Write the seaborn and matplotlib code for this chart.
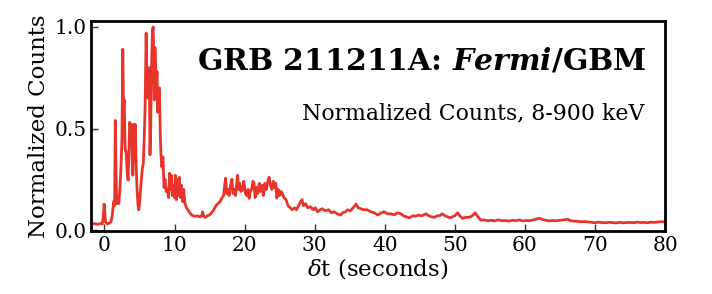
import numpy as np
import pandas as pd
import seaborn as sns
import matplotlib
matplotlib.use("Agg")
import matplotlib.pyplot as plt

# time since trigger (s)
t = [-2.0, -1.5, -1.0, -0.5, -0.3, -0.15, -0.05, 0.05, 0.15, 0.4, 0.7, 0.9, 1.05, 1.2, 1.3, 1.45,
     1.55, 1.65, 1.75, 1.9, 2.05, 2.2, 2.35, 2.5, 2.62, 2.72, 2.82, 2.95, 3.1, 3.25, 3.38, 3.5,
     3.6, 3.75, 3.85, 3.95, 4.05, 4.15, 4.2, 4.3, 4.4, 4.5, 4.65, 4.8, 4.9, 5.0, 5.2, 5.4,
     5.55, 5.7, 5.8, 5.95, 6.05, 6.15, 6.3, 6.4, 6.5, 6.6, 6.75, 6.85, 6.95, 7.05, 7.12, 7.2,
     7.3, 7.4, 7.5, 7.6, 7.7, 7.85, 7.95, 8.05, 8.2, 8.35, 8.5, 8.65, 8.8, 9.0, 9.15, 9.3,
     9.4, 9.55, 9.7, 9.85, 10.0, 10.1, 10.25, 10.4, 10.55, 10.7, 10.85, 11.0, 11.15, 11.3, 11.5, 11.7,
     11.9, 12.1, 12.4, 12.7, 13.0, 13.3, 13.6, 13.9, 14.0, 14.15, 14.4, 14.7, 15.0, 15.3, 15.6, 15.9,
     16.2, 16.5, 16.8, 17.0, 17.15, 17.3, 17.45, 17.6, 17.8, 18.0, 18.2, 18.35, 18.5, 18.7, 18.85, 19.0,
     19.15, 19.3, 19.5, 19.7, 19.9, 20.1, 20.3, 20.5, 20.65, 20.8, 21.0, 21.2, 21.35, 21.5, 21.7, 21.9,
     22.1, 22.3, 22.5, 22.7, 22.9, 23.1, 23.3, 23.5, 23.7, 23.9, 24.1, 24.3, 24.45, 24.6, 24.8, 25.0,
     25.2, 25.4, 25.6, 25.9, 26.2, 26.5, 26.8, 27.1, 27.4, 27.7, 28.0, 28.2, 28.4, 28.7, 29.0, 29.4,
     29.8, 30.1, 30.4, 30.8, 31.1, 31.5, 32.0, 32.4, 32.8, 33.2, 33.7, 34.0, 34.4, 34.7, 35.1, 35.5,
     35.9, 36.2, 36.6, 37.0, 37.5, 38.0, 38.5, 39.0, 39.5, 39.9, 40.4, 40.9, 41.4, 41.8, 42.3, 42.7,
     43.0, 43.5, 44.0, 44.4, 44.8, 45.2, 45.6, 45.9, 46.3, 46.7, 47.1, 47.5, 47.9, 48.2, 48.6, 49.0,
     49.3, 49.7, 50.0, 50.4, 50.7, 51.1, 51.5, 52.0, 52.5, 52.9, 53.2, 53.7, 54.2, 54.7, 55.2, 55.7,
     56.2, 56.7, 57.2, 57.7, 58.2, 58.7, 59.2, 59.7, 60.2, 60.7, 61.2, 61.7, 62.1, 62.5, 63.0, 63.5,
     64.0, 64.5, 65.0, 65.5, 66.1, 66.5, 67.0, 67.5, 68.0, 68.5, 69.0, 69.5, 70.0, 70.5, 71.0, 71.5,
     72.0, 72.5, 73.0, 73.5, 74.0, 74.5, 75.0, 75.5, 76.0, 76.5, 77.0, 77.5, 78.0, 78.5, 79.0, 79.5,
     80.0]

# normalized counts, 8-900 keV
counts = [0.030, 0.032, 0.028, 0.033, 0.030, 0.070, 0.128, 0.090, 0.040, 0.030, 0.035, 0.040, 0.060, 0.100, 0.140, 0.120,
          0.540, 0.300, 0.130, 0.150, 0.130, 0.200, 0.300, 0.450, 0.890, 0.600, 0.640, 0.400, 0.380, 0.280, 0.246, 0.400,
          0.530, 0.500, 0.520, 0.350, 0.270, 0.380, 0.520, 0.450, 0.520, 0.350, 0.200, 0.120, 0.100, 0.130, 0.220, 0.300,
          0.330, 0.480, 0.600, 0.970, 0.750, 0.650, 0.660, 0.800, 0.370, 0.500, 0.850, 0.980, 1.000, 0.850, 0.640, 0.900,
          0.800, 0.700, 0.780, 0.580, 0.670, 0.700, 0.500, 0.380, 0.310, 0.360, 0.210, 0.250, 0.190, 0.200, 0.160, 0.280,
          0.200, 0.270, 0.170, 0.220, 0.160, 0.270, 0.150, 0.250, 0.170, 0.260, 0.160, 0.220, 0.140, 0.200, 0.130, 0.110,
          0.100, 0.090, 0.075, 0.070, 0.068, 0.070, 0.065, 0.070, 0.090, 0.070, 0.062, 0.070, 0.075, 0.085, 0.100, 0.120,
          0.130, 0.140, 0.160, 0.170, 0.220, 0.255, 0.180, 0.200, 0.170, 0.220, 0.250, 0.180, 0.200, 0.170, 0.220, 0.270,
          0.200, 0.230, 0.190, 0.200, 0.240, 0.180, 0.170, 0.200, 0.156, 0.190, 0.200, 0.240, 0.230, 0.160, 0.210, 0.180,
          0.230, 0.190, 0.220, 0.170, 0.230, 0.200, 0.240, 0.260, 0.220, 0.200, 0.240, 0.210, 0.230, 0.157, 0.200, 0.170,
          0.190, 0.180, 0.160, 0.150, 0.120, 0.110, 0.100, 0.110, 0.100, 0.120, 0.140, 0.150, 0.120, 0.130, 0.110, 0.115,
          0.100, 0.110, 0.090, 0.100, 0.105, 0.095, 0.100, 0.085, 0.090, 0.080, 0.074, 0.085, 0.090, 0.100, 0.095, 0.110,
          0.128, 0.110, 0.105, 0.100, 0.100, 0.090, 0.085, 0.074, 0.085, 0.090, 0.080, 0.080, 0.075, 0.085, 0.080, 0.070,
          0.066, 0.060, 0.070, 0.068, 0.074, 0.070, 0.075, 0.080, 0.070, 0.065, 0.063, 0.070, 0.072, 0.080, 0.070, 0.065,
          0.060, 0.066, 0.070, 0.085, 0.070, 0.058, 0.062, 0.063, 0.070, 0.085, 0.070, 0.049, 0.050, 0.046, 0.048, 0.045,
          0.050, 0.046, 0.047, 0.044, 0.048, 0.046, 0.050, 0.045, 0.047, 0.046, 0.050, 0.055, 0.058, 0.052, 0.048, 0.045,
          0.047, 0.046, 0.048, 0.050, 0.054, 0.046, 0.044, 0.043, 0.041, 0.042, 0.040, 0.038, 0.036, 0.039, 0.037, 0.036,
          0.038, 0.037, 0.035, 0.038, 0.036, 0.037, 0.038, 0.036, 0.039, 0.037, 0.038, 0.036, 0.039, 0.038, 0.040, 0.041,
          0.040]

x_ticks = [0, 10, 20, 30, 40, 50, 60, 70, 80]
y_ticks = [0.0, 0.5, 1.0]
title_text = r"GRB 211211A: $\mathbfit{Fermi}$/GBM"
subtitle_text = "Normalized Counts, 8-900 keV"

sns.set_theme(style="ticks")
plt.rcParams["font.family"] = ["DejaVu Serif"]
plt.rcParams["mathtext.fontset"] = "dejavuserif"
plt.rcParams["text.color"] = "black"
plt.rcParams["axes.labelcolor"] = "black"

df = pd.DataFrame({"t": t, "counts": counts})

fig = plt.figure(figsize=(7.12, 2.94), dpi=100)
ax = fig.add_axes([0.128, 0.214, 0.806, 0.715])
sns.lineplot(data=df, x="t", y="counts", ax=ax, color="#E8342B", linewidth=2.0)

ax.set_xlim(-1.9, 80)
ax.set_ylim(-0.005, 1.03)
ax.set_xticks(x_ticks)
ax.set_yticks(y_ticks)
ax.set_xticklabels([str(v) for v in x_ticks])
ax.set_yticklabels([f"{v:.1f}" for v in y_ticks])
ax.tick_params(direction="in", length=5, width=1, labelsize=14.5, colors="#333333", labelcolor="black")
ax.set_xlabel(r"$\delta$t (seconds)", fontsize=16.5, labelpad=1)
ax.set_ylabel("Normalized Counts", fontsize=16.5, labelpad=3)
for s in ax.spines.values():
    s.set_linewidth(2)
    s.set_color("black")

ax.text(0.968, 0.767, title_text, transform=ax.transAxes, ha="right", va="baseline",
        fontsize=21.5, fontweight="bold", color="black")
ax.text(0.965, 0.533, subtitle_text, transform=ax.transAxes, ha="right", va="baseline",
        fontsize=15.8, color="black")

fig.savefig("out.png", dpi=100)
